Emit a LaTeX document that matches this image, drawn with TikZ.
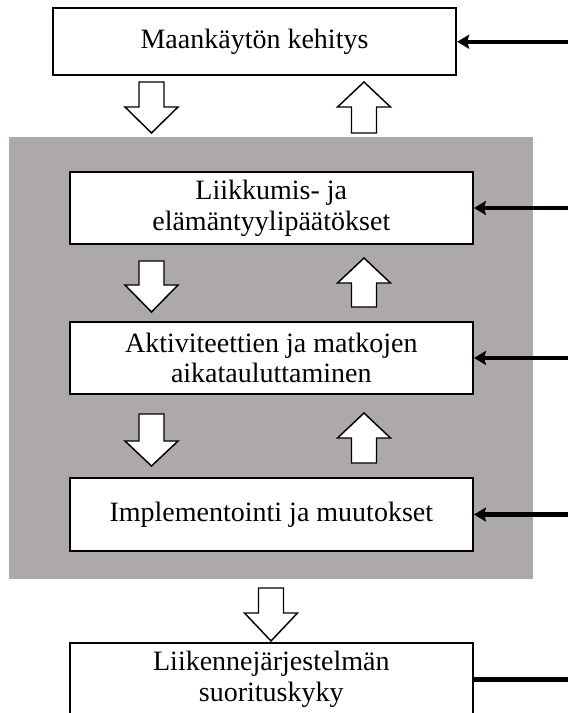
\documentclass[tikz,border=0pt]{standalone}
\usepackage{fontspec}
\setmainfont{Liberation Serif}
\usetikzlibrary{arrows.meta}
\definecolor{panelgray}{RGB}{173,169,168}
\tikzset{
  stagebox/.style={draw=black, line width=1.5pt, fill=white, align=center,
    minimum width=302.5pt, inner sep=0pt,
    font=\fontsize{21}{23}\selectfont},
  feedin/.style={line width=3.2pt, -{Stealth[length=9pt,width=10.5pt,inset=1.5pt]}},
  feedout/.style={line width=3.2pt},
  blockarrow/.style={draw=black, fill=white, line width=1.1pt, line join=miter},
  pics/downarrow/.style args={#1/#2}{code={
    % shaft length #1, head length #2 (pixel units)
    \path[blockarrow] (-12.5,0) -- (12.5,0) -- (12.5,#1) -- (26.5,#1)
      -- (0,#1+#2) -- (-26.5,#1) -- (-12.5,#1) -- cycle;}},
  pics/uparrow/.style args={#1/#2}{code={
    % head length #1, shaft length #2, drawn from the tip downwards
    \path[blockarrow] (0,0) -- (26.5,#1) -- (12.5,#1) -- (12.5,#1+#2)
      -- (-12.5,#1+#2) -- (-12.5,#1) -- (-26.5,#1) -- cycle;}}
}
\begin{document}
\begin{tikzpicture}[x=0.75pt, y=-0.75pt]
  \useasboundingbox (0,0) rectangle (568,713);
  \clip (0,0) rectangle (568,713);

  % grey panel behind the three inner stages
  \fill[panelgray] (9,137) rectangle (533,579);

  % stages
  \node[stagebox, minimum height=50pt] (land) at (254.5,41.75) {Maankäytön kehitys};
  \node[stagebox, minimum height=54pt] (life) at (271.3,208) {Liikkumis- ja\\elämäntyylipäätökset};
  \node[stagebox, minimum height=54pt] (sched) at (271.3,358) {Aktiviteettien ja matkojen\\aikatauluttaminen};
  \node[stagebox, minimum height=55pt] (impl) at (271.3,514.5) {Implementointi ja muutokset};
  \node[stagebox, minimum height=55pt] (perf) at (271.3,679.5) {Liikennejärjestelmän\\suorituskyky};

  % block arrows between the stages
  \pic at (151.5,82) {downarrow=25/26};
  \pic at (364,82) {uparrow=25/26};
  \pic at (151.5,261) {downarrow=24/27};
  \pic at (364,258) {uparrow=25/24};
  \pic at (151.5,414) {downarrow=27/25};
  \pic at (364,413) {uparrow=25/25};
  \pic at (271,588) {downarrow=25/28};

  % feedback lines along the right edge
  \coordinate (r1) at (568,41.75);
  \coordinate (r2) at (568,208);
  \coordinate (r3) at (568,358);
  \coordinate (r4) at (568,514.5);
  \coordinate (r5) at (568,679.5);
  \draw[feedin] (r1) -- (land.east);
  \draw[feedin] (r2) -- (life.east);
  \draw[feedin] (r3) -- (sched.east);
  \draw[feedin] (r4) -- (impl.east);
  \draw[feedout] (perf.east) -- (r5);
\end{tikzpicture}
\end{document}
